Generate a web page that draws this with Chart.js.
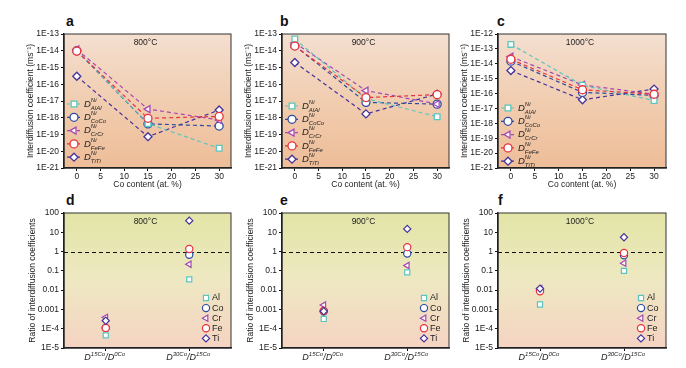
<!DOCTYPE html>
<html lang="en">
<head>
  <meta charset="UTF-8" />
  <title>Interdiffusion coefficients vs Co content</title>
  <script src="https://cdn.jsdelivr.net/npm/chart.js"></script>
  <style>
    body { margin: 0; background: #fff; font-family: Arial, "Liberation Sans", sans-serif; }
    #wrap { position: relative; width: 686px; height: 368px; overflow: hidden; }
    canvas { position: absolute; }
    .letter { position: absolute; font-weight: bold; font-size: 14px; line-height: 14px; color: #111; }
  </style>
</head>
<body>
  <div id="wrap">
    <div class="letter" style="left:66px; top:14px;">a</div>
    <div class="letter" style="left:280px; top:14px;">b</div>
    <div class="letter" style="left:497px; top:14px;">c</div>
    <div class="letter" style="left:66px; top:193px;">d</div>
    <div class="letter" style="left:280px; top:193px;">e</div>
    <div class="letter" style="left:498px; top:193px;">f</div>

    <canvas id="pa" width="217" height="176" style="left:20px; top:14px;"></canvas>
    <canvas id="pb" width="217" height="176" style="left:238px; top:14px;"></canvas>
    <canvas id="pc" width="218" height="176" style="left:454px; top:14px;"></canvas>
    <canvas id="pd" width="217" height="172" style="left:20px; top:196px;"></canvas>
    <canvas id="pe" width="217" height="172" style="left:238px; top:196px;"></canvas>
    <canvas id="pf" width="218" height="172" style="left:454px; top:196px;"></canvas>
  </div>

  <script>
    // ---- data ----
    const coContent = [0, 15, 30];
    const xTickValues = [0, 5, 10, 15, 20, 25, 30];
    const coefTickValues = [1e-21, 1e-20, 1e-19, 1e-18, 1e-17, 1e-16, 1e-15, 1e-14, 1e-13, 1e-12];
    const coefTickLabels = ['1E-21', '1E-20', '1E-19', '1E-18', '1E-17', '1E-16', '1E-15', '1E-14', '1E-13', '1E-12'];
    const ratioTickValues = [1e-5, 1e-4, 1e-3, 1e-2, 1e-1, 1, 10, 100];
    const ratioTickLabels = ['1E-5', '1E-4', '0.001', '0.01', '0.1', '1', '10', '100'];
    const ratioCategories = ['D15Co/D0Co', 'D30Co/D15Co'];
    const ratioNumer = ['15Co', '30Co'];
    const ratioDenom = ['0Co', '15Co'];
    const elements = ['Al', 'Co', 'Cr', 'Fe', 'Ti'];
    const pairSubs = ['AlAl', 'CoCo', 'CrCr', 'FeFe', 'TiTi'];
    const temperatures = ['800°C', '900°C', '1000°C'];

    // D (m2/s) at 0, 15, 30 at.% Co
    const al800 = [1.0e-14, 4.5e-19, 1.5e-20];
    const co800 = [1.0e-14, 4.3e-19, 3.2e-19];
    const cr800 = [1.2e-14, 3.3e-18, 7.4e-19];
    const fe800 = [9.5e-15, 9.3e-19, 1.2e-18];
    const ti800 = [3.0e-16, 7.4e-20, 2.9e-18];

    const al900 = [5.0e-14, 1.4e-17, 1.15e-18];
    const co900 = [2.0e-14, 8.3e-18, 6.5e-18];
    const cr900 = [3.0e-14, 4.2e-17, 6.6e-18];
    const fe900 = [1.9e-14, 1.6e-17, 2.4e-17];
    const ti900 = [2.0e-15, 1.7e-18, 2.6e-17];

    const al1000 = [2.0e-13, 3.6e-16, 3.4e-17];
    const co1000 = [1.5e-14, 1.2e-16, 7.5e-17];
    const cr1000 = [3.0e-14, 3.8e-16, 9.0e-17];
    const fe1000 = [2.0e-14, 1.8e-16, 9.0e-17];
    const ti1000 = [3.5e-15, 3.8e-17, 2.0e-16];

    // ratios D15Co/D0Co, D30Co/D15Co
    const rAl800 = [4.5e-5, 0.036];
    const rCo800 = [1.1e-4, 0.69];
    const rCr800 = [3.9e-4, 0.22];
    const rFe800 = [1.1e-4, 1.35];
    const rTi800 = [2.6e-4, 40];

    const rAl900 = [3.2e-4, 0.083];
    const rCo900 = [8.0e-4, 0.8];
    const rCr900 = [1.7e-3, 0.19];
    const rFe900 = [8.3e-4, 1.7];
    const rTi900 = [8.0e-4, 15];

    const rAl1000 = [1.8e-3, 0.1];
    const rCo1000 = [0.010, 0.64];
    const rCr1000 = [0.012, 0.25];
    const rFe1000 = [0.0087, 0.85];
    const rTi1000 = [0.012, 5.5];

    // ---- styles ----
    const colors = ['#5cc5bf', '#2d4b9f', '#a548b4', '#e8333c', '#46329b'];
    const markers = ['rect', 'circle', 'triangle', 'circle', 'rectRot'];
    const markerRot = [0, 0, -90, 0, 0];
    const coefOrder = [1, 3, 2, 0, 4];
    const ratioOrder = [2, 4, 3, 1, 0];
    const coefShades = ['#f4dfd0', '#f1cdb0', '#eebd98'];
    const ratioShades = ['#e2e5a6', '#eee8c2', '#f5d3c2'];
    const FONT = 'Arial, "Liberation Sans", sans-serif';

    Chart.defaults.font.family = FONT;
    Chart.defaults.font.size = 8.5;
    Chart.defaults.color = '#222';

    const decor = {
      id: 'decor',
      beforeDraw(chart, args, o) {
        const { ctx, chartArea: a } = chart;
        const g = ctx.createLinearGradient(0, a.top, 0, a.bottom);
        o.shades.forEach((c, i) => g.addColorStop(i / (o.shades.length - 1), c));
        ctx.save();
        ctx.fillStyle = g;
        ctx.fillRect(a.left, a.top, a.right - a.left, a.bottom - a.top);
        ctx.restore();
      },
      beforeDatasetsDraw(chart, args, o) {
        const { ctx, chartArea: a } = chart;
        ctx.save();
        ctx.strokeStyle = '#333';
        ctx.lineWidth = 1;
        ctx.strokeRect(a.left, a.top, a.right - a.left, a.bottom - a.top);
        if (o.kind === 'ratio') {
          const y = Math.round(chart.scales.y.getPixelForValue(1)) + 0.5;
          ctx.strokeStyle = '#111';
          ctx.setLineDash([4, 3]);
          ctx.beginPath();
          ctx.moveTo(a.left, y);
          ctx.lineTo(a.right, y);
          ctx.stroke();
        }
        ctx.restore();
      },
      afterDraw(chart, args, o) {
        const { ctx, chartArea: a } = chart;
        ctx.save();
        ctx.fillStyle = '#222';
        ctx.font = '8.5px ' + FONT;
        ctx.textAlign = 'center';
        ctx.textBaseline = 'middle';
        ctx.fillText(o.temp, (a.left + a.right) / 2 - 2, a.top + 9);
        ctx.textAlign = 'left';

        if (o.kind === 'coef') {
          elements.forEach((el, i) => {
            const y = a.top + o.legendTop + i * 13.3;
            const x0 = a.left + 3;
            ctx.strokeStyle = colors[i];
            ctx.lineWidth = 1.2;
            ctx.setLineDash([3, 2]);
            ctx.beginPath();
            ctx.moveTo(x0, y);
            ctx.lineTo(x0 + 15, y);
            ctx.stroke();
            ctx.setLineDash([]);
            ctx.fillStyle = '#fff';
            ctx.lineWidth = 1.3;
            Chart.helpers.drawPoint(ctx, { pointStyle: markers[i], rotation: markerRot[i], radius: 4, borderWidth: 1.3 }, x0 + 7, y);
            ctx.fillStyle = '#222';
            ctx.font = 'italic 9.5px ' + FONT;
            ctx.fillText('D', x0 + 17, y);
            const w = ctx.measureText('D').width;
            ctx.font = 'italic 6px ' + FONT;
            ctx.fillText('Ni', x0 + 17 + w, y - 4);
            ctx.fillText(pairSubs[i], x0 + 17 + w, y + 4);
          });
        } else {
          elements.forEach((el, i) => {
            const y = a.top + 85 + i * 10.1;
            const x = a.right - 25;
            ctx.strokeStyle = colors[i];
            ctx.fillStyle = '#fff';
            ctx.lineWidth = 1.2;
            Chart.helpers.drawPoint(ctx, { pointStyle: markers[i], rotation: markerRot[i], radius: 3.6, borderWidth: 1.2 }, x, y);
            ctx.fillStyle = '#222';
            ctx.font = '9px ' + FONT;
            ctx.fillText(el, x + 6, y);
          });
          // category labels with superscripts
          ratioCategories.forEach((c, k) => {
            const parts = [['D', 9, 0], [ratioNumer[k], 6, -3], ['/D', 9, 0], [ratioDenom[k], 6, -3]];
            let total = 0;
            parts.forEach(p => { ctx.font = 'italic ' + p[1] + 'px ' + FONT; total += ctx.measureText(p[0]).width; });
            let x = chart.scales.x.getPixelForValue(k) - 1 - total / 2;
            const y = a.bottom + 9;
            parts.forEach(p => {
              ctx.font = 'italic ' + p[1] + 'px ' + FONT;
              ctx.fillText(p[0], x, y + p[2]);
              x += ctx.measureText(p[0]).width;
            });
          });
        }
        ctx.restore();
      }
    };

    function axisCommon() {
      return {
        grid: { drawOnChartArea: false, drawTicks: true, tickLength: 3, color: '#111' },
        border: { color: '#111', width: 1.5 }
      };
    }

    function coefChart(id, tIndex, series, yMax, legendTop) {
      new Chart(document.getElementById(id), {
        type: 'line',
        data: {
          datasets: series.map((vals, i) => ({
            label: elements[i],
            data: coContent.map((x, j) => ({ x: x, y: vals[j] })),
            borderColor: colors[i],
            borderWidth: 1.2,
            borderDash: [4, 3],
            pointStyle: markers[i],
            pointRotation: markerRot[i],
            pointRadius: 4,
            pointBorderWidth: 1.3,
            pointBorderColor: colors[i],
            pointBackgroundColor: '#fff',
            order: coefOrder[i],
            fill: false
          }))
        },
        options: {
          responsive: false,
          animation: false,
          layout: { padding: { top: 20, right: 6, left: 0, bottom: 0 } },
          plugins: {
            legend: { display: false },
            tooltip: { enabled: false },
            decor: { kind: 'coef', temp: temperatures[tIndex], legendTop: legendTop, shades: coefShades }
          },
          scales: {
            x: {
              type: 'linear', min: -2.7, max: 32.5,
              ...axisCommon(),
              ticks: { padding: 1, maxRotation: 0, autoSkip: false },
              afterBuildTicks: s => { s.ticks = xTickValues.map(v => ({ value: v })); },
              afterFit: s => { s.height = 22; },
              title: { display: true, text: 'Co content (at. %)', padding: { top: 0, bottom: 0 } }
            },
            y: {
              type: 'logarithmic', min: 1e-21, max: yMax,
              ...axisCommon(),
              ticks: { padding: 2, autoSkip: false, callback: v => coefTickLabels[coefTickValues.indexOf(v)] },
              afterBuildTicks: s => { s.ticks = coefTickValues.filter(v => v <= yMax).map(v => ({ value: v })); },
              afterFit: s => { s.width = 44; },
              title: { display: true, text: 'Interdiffusion coefficient (ms⁻¹)', padding: { top: 6, bottom: 0 } }
            }
          }
        },
        plugins: [decor]
      });
    }

    function ratioChart(id, tIndex, series) {
      new Chart(document.getElementById(id), {
        type: 'line',
        data: {
          labels: ratioCategories,
          datasets: series.map((vals, i) => ({
            label: elements[i],
            data: vals,
            showLine: false,
            pointStyle: markers[i],
            pointRotation: markerRot[i],
            pointRadius: 3.6,
            pointBorderWidth: 1.2,
            pointBorderColor: colors[i],
            pointBackgroundColor: '#fff',
            borderColor: colors[i],
            order: ratioOrder[i]
          }))
        },
        options: {
          responsive: false,
          animation: false,
          layout: { padding: { top: 17, right: 6, left: 0, bottom: 0 } },
          plugins: {
            legend: { display: false },
            tooltip: { enabled: false },
            decor: { kind: 'ratio', temp: temperatures[tIndex], shades: ratioShades }
          },
          scales: {
            x: {
              type: 'category', offset: true,
              ...axisCommon(),
              ticks: { display: false },
              afterFit: s => { s.height = 20; }
            },
            y: {
              type: 'logarithmic', min: 1e-5, max: 100,
              ...axisCommon(),
              ticks: { padding: 2, autoSkip: false, callback: v => ratioTickLabels[ratioTickValues.indexOf(v)] },
              afterBuildTicks: s => { s.ticks = ratioTickValues.map(v => ({ value: v })); },
              afterFit: s => { s.width = 44; },
              title: { display: true, text: 'Ratio of interdiffusion coefficients', padding: { top: 8, bottom: 0 } }
            }
          }
        },
        plugins: [decor]
      });
    }

    coefChart('pa', 0, [al800, co800, cr800, fe800, ti800], 1e-13, 70);
    coefChart('pb', 1, [al900, co900, cr900, fe900, ti900], 1e-13, 72);
    coefChart('pc', 2, [al1000, co1000, cr1000, fe1000, ti1000], 1e-12, 74);

    ratioChart('pd', 0, [rAl800, rCo800, rCr800, rFe800, rTi800]);
    ratioChart('pe', 1, [rAl900, rCo900, rCr900, rFe900, rTi900]);
    ratioChart('pf', 2, [rAl1000, rCo1000, rCr1000, rFe1000, rTi1000]);
  </script>
</body>
</html>
